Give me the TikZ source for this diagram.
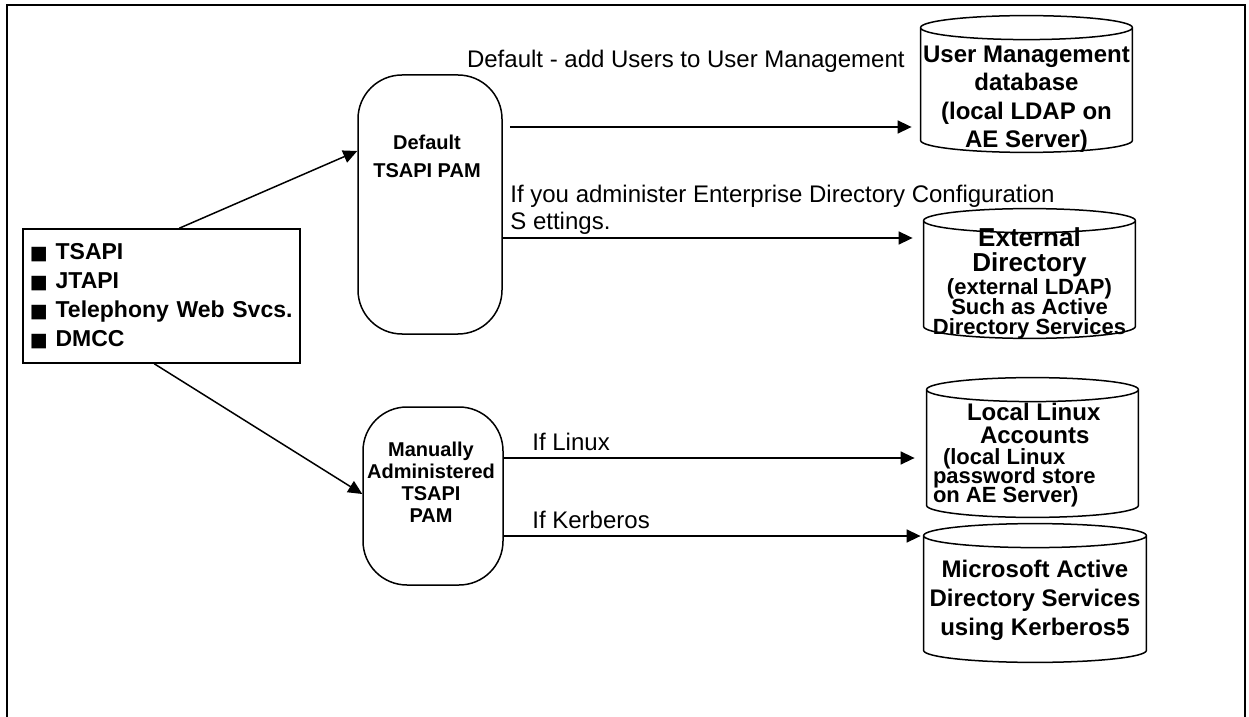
\documentclass[tikz,border=0pt]{standalone}
\usepackage{fontspec}
\setmainfont{Liberation Sans}
\newfontfamily\symfont{DejaVu Sans}
\usetikzlibrary{arrows.meta,calc}

\newcommand{\apibullet}{{\symfont\fontsize{9.5}{9.5}\selectfont ■}}
\newcommand{\tightlines}{\lineskiplimit=-20pt\relax}

\tikzset{
  conn/.style={line width=0.75pt,-{Triangle[length=7pt,width=6.5pt]}},
  pam/.style={draw, line width=0.75pt, rounded corners=22pt, inner sep=0pt},
  pamtext/.style={align=center, inner sep=0pt},
  dbbody/.style={inner sep=0pt},
  dbtext/.style={align=center, inner sep=0pt},
  lbl/.style={inner sep=0pt, font=\fontsize{12}{13.5}\selectfont},
}

% drum outline round a database node
\newcommand{\dbdrum}[1]{%
  \draw[line width=0.75pt] let \p1=(#1.north west), \p2=(#1.south east), \n1={0.5*(\x2-\x1)} in
    (\x1,\y1) -- (\x1,\y2) arc[start angle=180, end angle=360, x radius=\n1, y radius=6pt] -- (\x2,\y1)
    (\x1+\n1,\y1) ellipse[x radius=\n1, y radius=6pt];
}

\begin{document}
\begin{tikzpicture}[x=0.5pt,y=-0.5pt]
    \useasboundingbox (0,0) rectangle (1249,717);
    \draw[line width=1pt] (7,717) -- (7,5) -- (1245,5) -- (1245,717);% Frame, open at the bottom

    % Interfaces
    \node[draw, line width=0.75pt, minimum width=138.5pt, minimum height=67pt, text width=131.5pt,
          inner xsep=3.5pt, align=left, font=\bfseries\fontsize{11.5}{14.5}\selectfont]
          (apis) at (161.5,296)
          {\apibullet\ TSAPI\\\apibullet\ JTAPI\\\apibullet\ Telephony Web Svcs.\\\apibullet\ DMCC};

    % The two PAM modules
    \node[pam, minimum width=72pt, minimum height=129.5pt] (pam1) at (430,204.5) {};
    \node[pamtext, font=\bfseries\fontsize{10}{14}\selectfont] (pam1txt)
          at ([xshift=-1.5pt,yshift=24.25pt]pam1.center) {Default\\TSAPI PAM};
    \node[pam, minimum width=70pt, minimum height=89pt] (pam2) at (433,496) {};
    \node[pamtext, font=\bfseries\fontsize{10}{11}\selectfont] (pam2txt)
          at ([xshift=-1pt,yshift=7pt]pam2.center) {Manually\\Administered\\TSAPI\\PAM};

    % Databases
    \node[dbbody, minimum width=105.5pt, minimum height=56pt] (umdb) at (1026.5,84) {};
    \node[dbtext, font=\bfseries\fontsize{12}{14.25}\selectfont] (umdbtxt)
          at ([yshift=-7.5pt]umdb.center) {User Management\\database\\(local LDAP on\\AE Server)};
    \node[dbbody, minimum width=105.5pt, minimum height=52.5pt] (extdir) at (1029.5,273.5) {};
    \node[dbtext, font={\bfseries\fontsize{11}{10}\selectfont\tightlines}] (extdirtxt)
          at ([yshift=-5pt]extdir.center)
          {{\fontsize{13}{10}\selectfont External}\\[2.25pt]{\fontsize{13}{10}\selectfont Directory}\\[1.5pt]
           (external LDAP)\\Such as Active\\Directory Services};
    \node[dbbody, minimum width=105.5pt, minimum height=57.5pt] (linux) at (1032.5,447.5) {};
    \node[dbtext, align=left, anchor=west, font={\bfseries\fontsize{11}{9.5}\selectfont\tightlines}]
          (linuxtxt) at ([xshift=3pt,yshift=-4pt]linux.west)
          {\hspace*{17pt}{\fontsize{12}{9.5}\selectfont Local Linux}\\[2pt]
           \hspace*{23.5pt}{\fontsize{12}{9.5}\selectfont Accounts}\\[1pt]
           \hspace*{5pt}(local Linux\\password store\\on AE Server)};
    \node[dbbody, minimum width=111pt, minimum height=57pt] (msad) at (1035,593) {};
    \node[dbtext, font=\bfseries\fontsize{12}{14.5}\selectfont] (msadtxt)
          at ([yshift=-3.5pt]msad.center) {Microsoft Active\\Directory Services\\using Kerberos5};
    \foreach \db in {umdb,extdir,linux,msad}{% Drum round each database
      \dbdrum{\db}
    }

    % Connectors
    \coordinate (lane1) at (0,127);
    \coordinate (lane2) at (0,238);
    \coordinate (lane3) at (0,458);
    \coordinate (lane4) at (0,536);
    \draw[conn] ([xshift=78.5pt]apis.north west) -- ([yshift=26.75pt]pam1.west);
    \draw[conn] ([xshift=66pt]apis.south west) -- ([yshift=1pt]pam2.west);
    \draw[conn, shorten <=3.5pt, shorten >=4.5pt] (pam1.east |- lane1) -- (umdb.west |- lane1);
    \draw[conn, shorten >=5.5pt] (pam1.east |- lane2) -- (extdir.west |- lane2);
    \draw[conn, shorten >=6pt] (pam2.east |- lane3) -- (linux.west |- lane3);
    \draw[conn, shorten >=1.5pt] (pam2.east |- lane4) -- (msad.west |- lane4);

    % Labels on the connectors
    \node[lbl, anchor=base east] (lbldefault) at (905,68) {Default - add Users to User Management};
    \node[lbl, anchor=north west, align=left] (lblenterprise) at (510,185)
          {If you administer Enterprise Directory Configuration\\S ettings.};
    \node[lbl, anchor=base west] (lbllinux) at (532,450) {If Linux};
    \node[lbl, anchor=base west] (lblkerberos) at (532,528) {If Kerberos};
\end{tikzpicture}
\end{document}
